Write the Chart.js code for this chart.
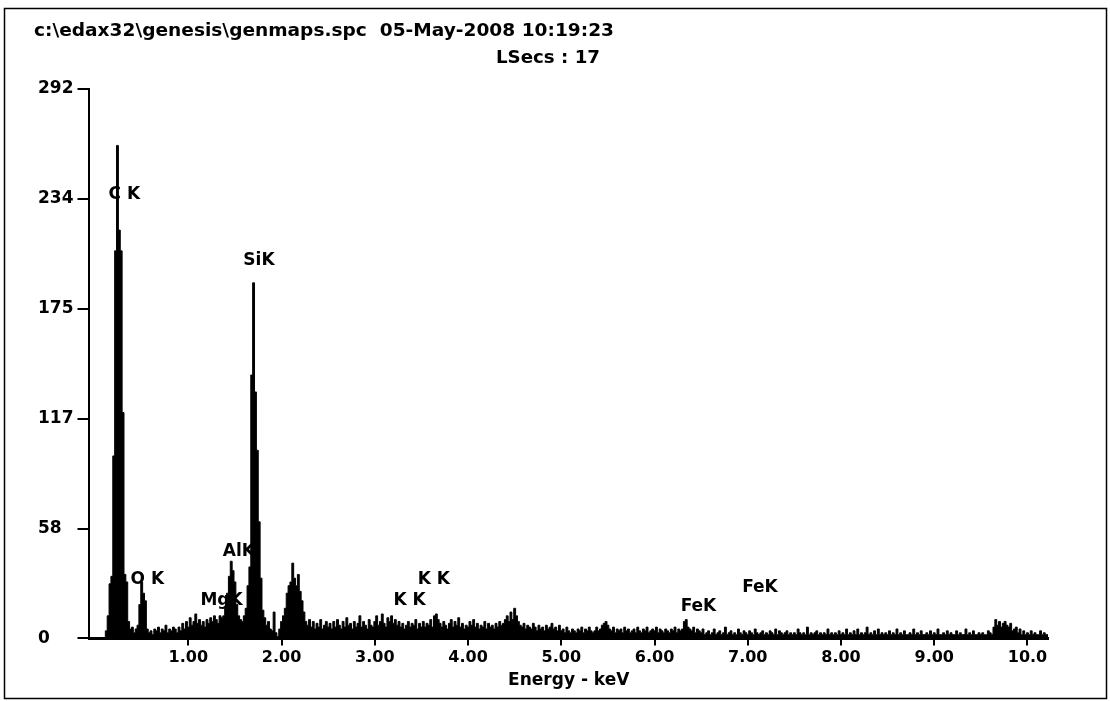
<!DOCTYPE html>
<html>
<head>
<meta charset="utf-8">
<title>genmaps.spc</title>
<script src="https://cdn.jsdelivr.net/npm/chart.js@4.4.0/dist/chart.umd.min.js"></script>
<style>
  html, body { margin: 0; padding: 0; background: #fff; }
</style>
</head>
<body>
<canvas id="myChart" width="1110" height="701"></canvas>
<script>
const fileInfo = 'c:\\edax32\\genesis\\genmaps.spc  05-May-2008 10:19:23';
const liveSecs = 'LSecs : 17';

// one value per 0.02 keV channel, starting at 0 keV
const channelWidth = 0.02;
const counts = [
  0, 0, 0, 0, 0, 0, 4, 12, 29, 33, 97, 206, 262, 217, 206, 120, 34, 30, 9, 5, 6, 3, 5, 7, 18,      // 0.00
  30, 24, 20, 5, 3, 4, 2, 5, 4, 6, 3, 5, 4, 7, 3, 5, 4, 6, 5, 3, 6, 4, 8, 5, 9,                   // 0.50
  6, 11, 7, 9, 13, 8, 10, 7, 9, 6, 10, 8, 11, 9, 12, 10, 8, 12, 11, 12, 16, 24, 33, 41, 36,       // 1.00
  30, 18, 12, 10, 9, 12, 16, 28, 38, 140, 189, 131, 100, 62, 32, 15, 11, 7, 9, 5, 4, 14, 3, 1, 5, // 1.50
  9, 12, 16, 24, 28, 30, 40, 32, 28, 34, 25, 20, 14, 9, 7, 10, 6, 9, 5, 8, 6, 10, 5, 7, 9,        // 2.00
  6, 8, 5, 9, 6, 10, 7, 5, 9, 6, 11, 7, 8, 5, 9, 6, 8, 12, 6, 9, 7, 5, 10, 7, 6,                  // 2.50
  9, 12, 7, 9, 13, 8, 6, 11, 9, 12, 8, 10, 7, 9, 6, 8, 5, 7, 9, 6, 8, 7, 10, 5, 8,                // 3.00
  6, 9, 6, 8, 7, 10, 6, 12, 13, 10, 8, 6, 9, 7, 5, 8, 10, 6, 9, 7, 11, 6, 8, 5, 7,                // 3.50
  6, 9, 7, 10, 6, 8, 5, 7, 6, 9, 5, 8, 6, 7, 5, 8, 6, 9, 7, 8, 10, 12, 9, 14, 10,                 // 4.00
  16, 12, 9, 7, 6, 8, 5, 7, 6, 5, 8, 6, 4, 7, 5, 6, 4, 7, 5, 6, 8, 5, 6, 4, 7,                    // 4.50
  4, 5, 3, 6, 4, 3, 5, 4, 3, 5, 4, 6, 3, 5, 4, 6, 4, 3, 4, 6, 4, 5, 7, 8, 9,                      // 5.00
  7, 5, 4, 6, 3, 5, 4, 5, 3, 6, 4, 5, 3, 4, 5, 3, 6, 4, 3, 5, 4, 6, 3, 4, 5,                      // 5.50
  4, 6, 3, 5, 4, 3, 5, 4, 3, 5, 4, 6, 3, 5, 4, 5, 9, 10, 6, 5, 4, 6, 3, 5, 4,                     // 6.00
  3, 5, 2, 3, 4, 2, 3, 5, 2, 3, 4, 2, 3, 6, 2, 3, 4, 2, 3, 2, 5, 3, 2, 4, 3,                      // 6.50
  2, 4, 3, 2, 5, 3, 2, 3, 4, 2, 3, 2, 4, 3, 2, 5, 2, 4, 3, 2, 3, 4, 2, 3, 2,                      // 7.00
  3, 2, 5, 3, 2, 3, 2, 6, 2, 3, 2, 3, 4, 2, 3, 2, 3, 2, 5, 2, 3, 2, 3, 2, 4,                      // 7.50
  2, 3, 2, 5, 2, 3, 2, 4, 2, 5, 2, 3, 2, 3, 6, 2, 3, 2, 4, 2, 5, 2, 3, 2, 3,                      // 8.00
  2, 4, 2, 3, 2, 5, 2, 3, 2, 4, 2, 2, 3, 2, 5, 2, 3, 2, 4, 2, 2, 3, 2, 4, 2,                      // 8.50
  3, 2, 5, 2, 2, 3, 2, 4, 2, 3, 2, 2, 4, 2, 3, 2, 2, 5, 2, 3, 2, 4, 2, 2, 3,                      // 9.00
  2, 3, 2, 2, 4, 3, 2, 6, 10, 7, 9, 6, 8, 9, 7, 6, 8, 4, 5, 6, 3, 5, 2, 4, 2,                     // 9.50
  3, 2, 4, 2, 3, 2, 2, 4, 2, 3, 2, 2                                                            // 10.00
];

const yTickValues = [0, 58.4, 116.8, 175.2, 233.6, 292];
const yTickLabels = ['0', '58', '117', '175', '234', '292'];
const xTickValues = [1, 2, 3, 4, 5, 6, 7, 8, 9, 10];
const xTickLabels = ['1.00', '2.00', '3.00', '4.00', '5.00', '6.00', '7.00', '8.00', '9.00', '10.0'];

// peak identification labels, anchored in keV / counts
const peakNames = ['C K', 'O K', 'MgK', 'AlK', 'SiK', 'K K', 'K K', 'FeK', 'FeK'];
const peakLabelEnergy = [0.145, 0.38, 1.13, 1.37, 1.59, 3.20, 3.46, 6.28, 6.94];
const peakLabelCounts = [236, 31, 20, 46, 201, 20, 31, 17, 27];

const FONT = '"DejaVu Sans", "Liberation Sans", sans-serif';

document.addEventListener('DOMContentLoaded', (event) => {

    const points = counts.map((c, i) => ({ x: +(i * channelWidth).toFixed(2), y: c }));

    // draws text stretched a little wider, like the scanned print-out
    function wideText(ctx, text, x, y, width) {
        const w = ctx.measureText(text).width;
        ctx.save();
        ctx.translate(x, y);
        ctx.scale(width / w, 1);
        ctx.fillText(text, 0, 0);
        ctx.restore();
    }

    const pagePlugin = {
        id: 'page',
        beforeDraw(chart) {
            const ctx = chart.ctx;
            ctx.save();
            ctx.fillStyle = '#fff';
            ctx.fillRect(0, 0, chart.width, chart.height);
            ctx.restore();
        },
        afterDraw(chart) {
            const ctx = chart.ctx;
            ctx.save();
            ctx.strokeStyle = '#000';
            ctx.lineWidth = 1.5;
            ctx.strokeRect(4.5, 8.5, 1102, 690);
            ctx.fillStyle = '#000';
            ctx.font = 'bold 17px ' + FONT;
            ctx.textBaseline = 'middle';
            ctx.textAlign = 'left';
            wideText(ctx, fileInfo, 34, 32, 580);
            wideText(ctx, liveSecs, 496, 59, 104);
            ctx.restore();
        }
    };

    const peakPlugin = {
        id: 'peaks',
        afterDatasetsDraw(chart) {
            const ctx = chart.ctx;
            const xs = chart.scales.x, ys = chart.scales.y;
            ctx.save();
            ctx.fillStyle = '#000';
            ctx.font = 'bold 17px ' + FONT;
            ctx.textBaseline = 'middle';
            ctx.textAlign = 'left';
            peakNames.forEach((name, i) => {
                ctx.fillText(name, xs.getPixelForValue(peakLabelEnergy[i]), ys.getPixelForValue(peakLabelCounts[i]));
            });
            ctx.restore();
        }
    };

    const config = {
        type: 'line',
        data: {
            datasets: [{
                data: points,
                stepped: 'middle',
                fill: 'origin',
                backgroundColor: '#000',
                borderColor: '#000',
                borderWidth: 1,
                pointRadius: 0
            }]
        },
        options: {
            responsive: false,
            animation: false,
            events: [],
            layout: {
                padding: { left: 38, right: 62, top: 89, bottom: 10 }
            },
            plugins: {
                legend: { display: false },
                tooltip: { enabled: false }
            },
            scales: {
                x: {
                    type: 'linear',
                    min: -0.06,
                    max: 10.22,
                    afterBuildTicks: (scale) => {
                        scale.ticks = xTickValues.map(v => ({ value: v }));
                    },
                    ticks: {
                        color: '#000',
                        font: { family: FONT, size: 16, weight: 'bold' },
                        padding: 3,
                        maxRotation: 0,
                        autoSkip: false,
                        callback: (v, i) => xTickLabels[i]
                    },
                    grid: {
                        drawOnChartArea: false,
                        drawTicks: true,
                        tickLength: 7,
                        color: '#000',
                        lineWidth: 2
                    },
                    border: { display: true, color: '#000', width: 3 },
                    title: {
                        display: true,
                        text: 'Energy - keV',
                        color: '#000',
                        font: { family: FONT, size: 17, weight: 'bold' },
                        padding: { top: 0, bottom: 0 }
                    }
                },
                y: {
                    min: 0,
                    max: 292,
                    afterBuildTicks: (scale) => {
                        scale.ticks = yTickValues.map(v => ({ value: v }));
                    },
                    ticks: {
                        color: '#000',
                        font: { family: FONT, size: 17, weight: 'bold' },
                        padding: 2,
                        crossAlign: 'far',
                        autoSkip: false,
                        callback: (v, i) => yTickLabels[i]
                    },
                    grid: {
                        drawOnChartArea: false,
                        drawTicks: true,
                        tickLength: 12,
                        color: '#000',
                        lineWidth: 2
                    },
                    border: { display: true, color: '#000', width: 2 }
                }
            }
        },
        plugins: [pagePlugin, peakPlugin]
    };

    var myChart = new Chart(
        document.getElementById('myChart'),
        config
    );

});
</script>
</body>
</html>
